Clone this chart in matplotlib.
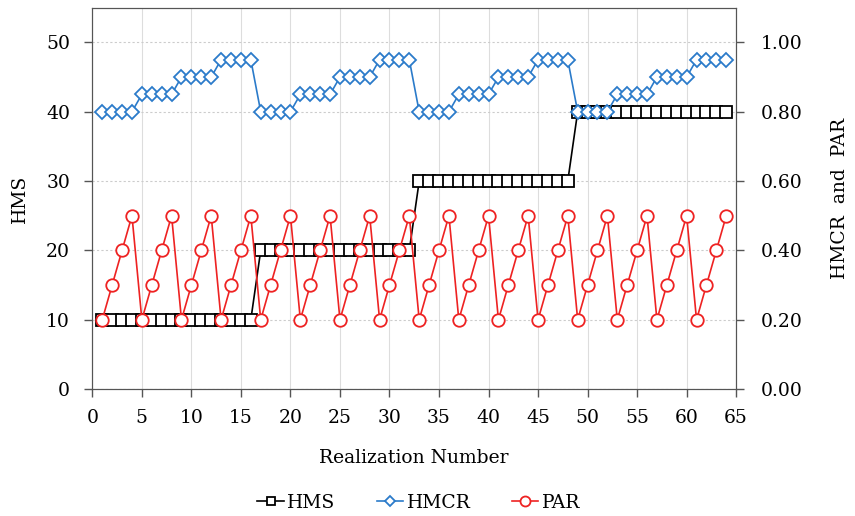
import matplotlib.pyplot as plt

plt.rcParams['font.family'] = 'DejaVu Serif'

# Data: 64 realizations
realization = list(range(1, 65))
hms = [10] * 16 + [20] * 16 + [30] * 16 + [40] * 16
hmcr_cycle = [0.80] * 4 + [0.85] * 4 + [0.90] * 4 + [0.95] * 4
hmcr = hmcr_cycle * 4
par = [0.2, 0.3, 0.4, 0.5] * 16

fig = plt.figure(figsize=(8.55, 5.16), dpi=100)
ax = fig.add_axes([0.108, 0.246, 0.753, 0.739])
ax2 = ax.twinx()

ax.set_xlim(0, 65)
ax.set_ylim(0, 55)
ax2.set_ylim(0, 1.1)
ax.set_xticks(range(0, 70, 5))
ax.set_yticks(range(0, 60, 10))
ax2.set_yticks([0, 0.2, 0.4, 0.6, 0.8, 1.0])
ax2.set_yticklabels(['0.00', '0.20', '0.40', '0.60', '0.80', '1.00'])

ax.grid(axis='x', color='#dddddd', lw=0.8)
ax.grid(axis='y', color='#cccccc', lw=0.8, ls=(0, (2, 2)))
ax.set_axisbelow(True)

l1, = ax.plot(realization, hms, color='black', lw=1.2, marker='s', ms=8,
              mfc='white', mec='black', mew=1.3, label='HMS')
l2, = ax2.plot(realization, hmcr, color='#2b7bca', lw=1.2, marker='D', ms=7,
               mfc='white', mec='#2b7bca', mew=1.3, label='HMCR')
l3, = ax2.plot(realization, par, color='#ee2222', lw=1.2, marker='o', ms=9,
               mfc='white', mec='#ee2222', mew=1.3, label='PAR')

for a in (ax, ax2):
    for s in ['top', 'left', 'right', 'bottom']:
        a.spines[s].set_color('#555555')
    a.tick_params(labelsize=13.5, color='#555555', length=6, width=1.0)
ax.tick_params(axis='x', pad=8)
ax.tick_params(axis='y', pad=10)
ax2.tick_params(axis='y', pad=12)

ax.set_xlabel('Realization Number', fontsize=13.5, labelpad=16)
ax.set_ylabel('HMS', fontsize=13.5, labelpad=12)
ax2.set_ylabel('HMCR  and  PAR', fontsize=13.5, labelpad=20)

fig.legend(handles=[l1, l2, l3], loc='lower center', bbox_to_anchor=(0.49, -0.025),
           ncol=3, frameon=False, fontsize=13.5, handlelength=1.4,
           handletextpad=0.2, columnspacing=2.2, markerscale=0.8)

fig.savefig('out.png', dpi=100)
